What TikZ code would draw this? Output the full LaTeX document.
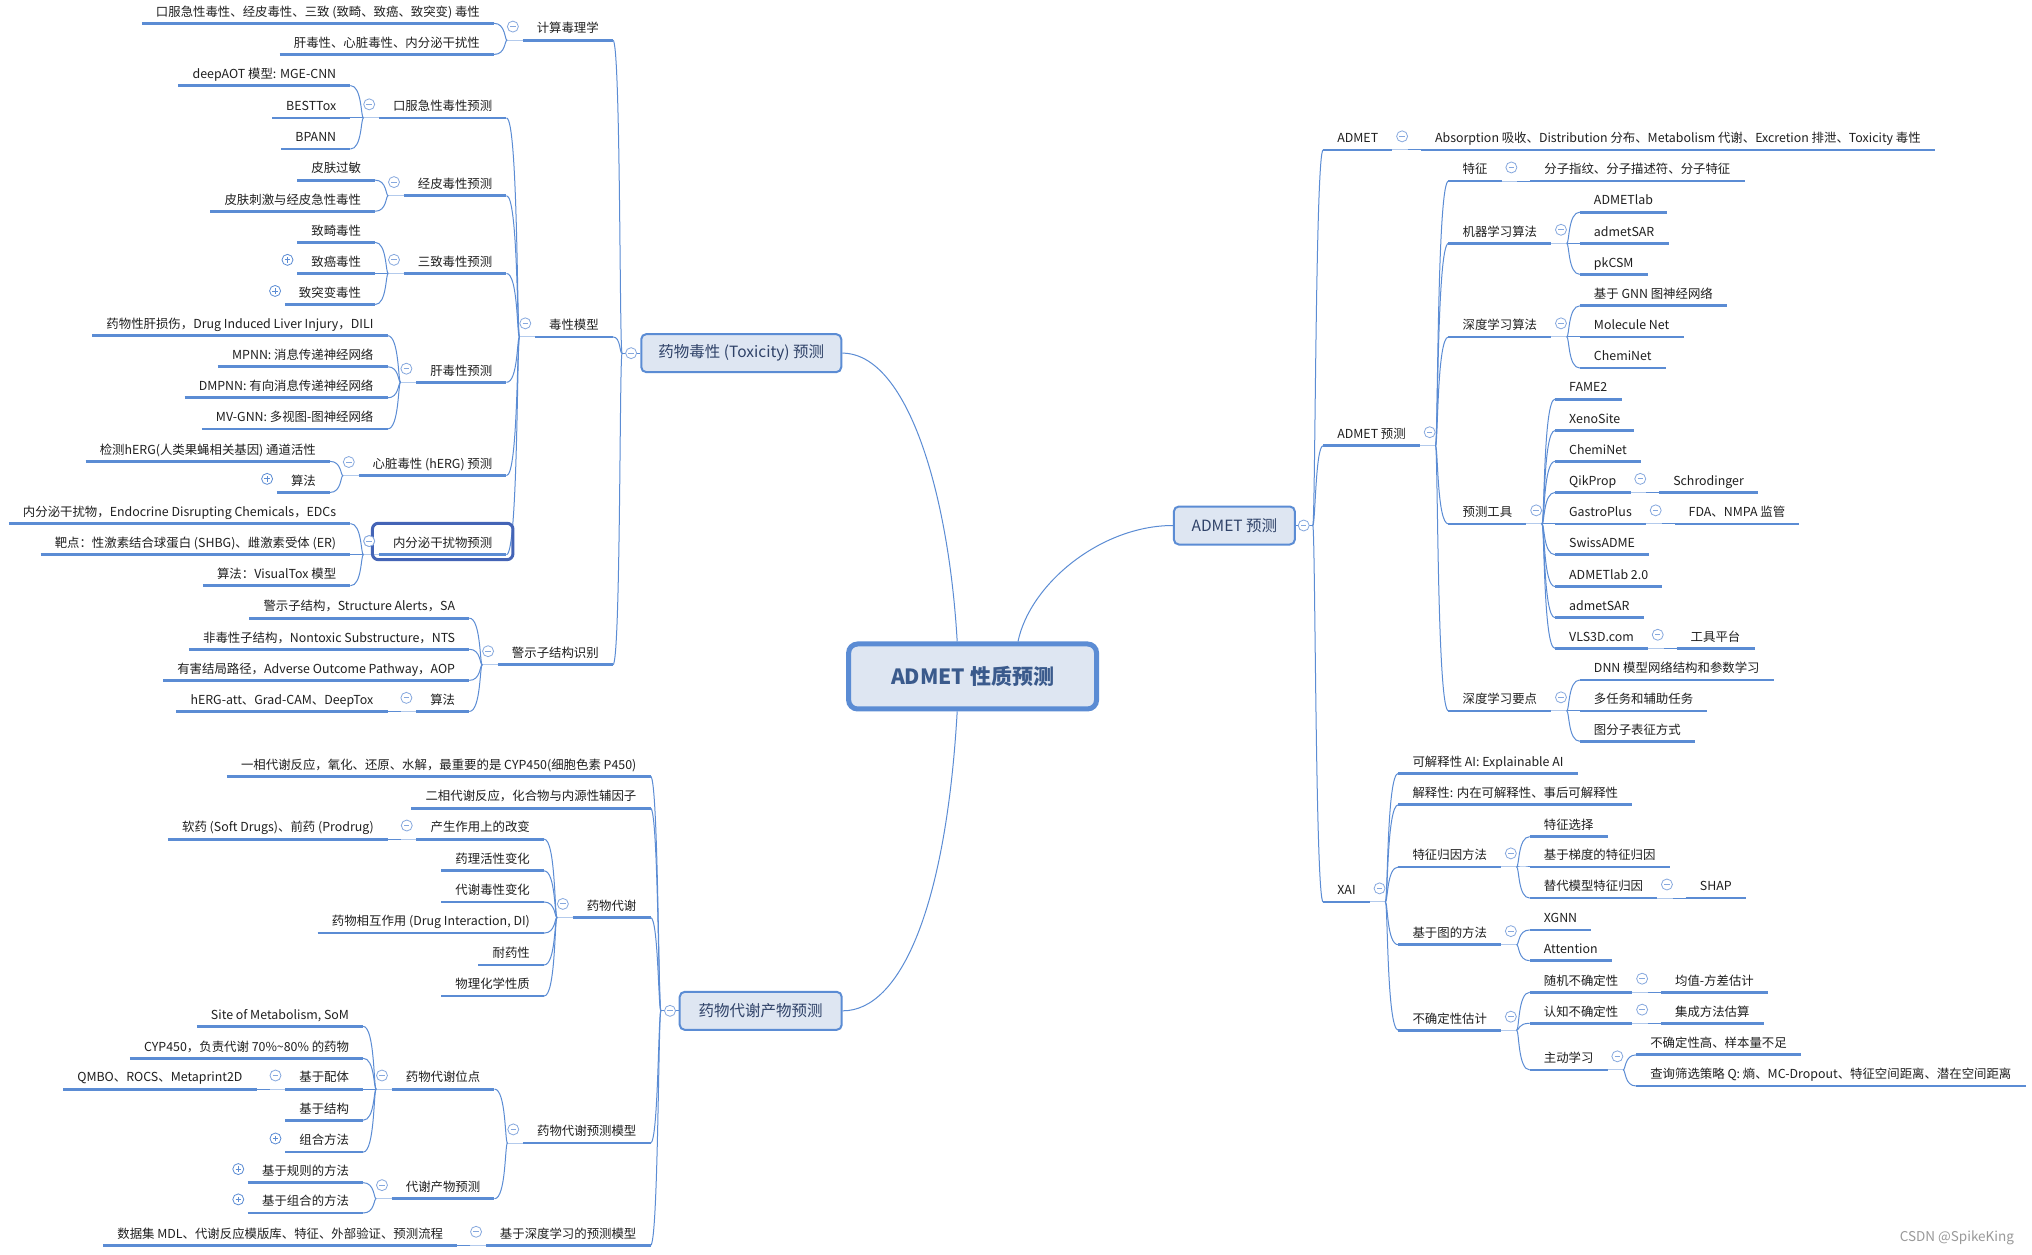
\documentclass[tikz,border=0pt]{standalone}
\usepackage{fontspec}
\setmainfont{Noto Sans CJK SC}
\definecolor{linec}{HTML}{5B8CD4}
\definecolor{gapc}{HTML}{B3CAEC}
\definecolor{foldc}{HTML}{86A8DE}
\definecolor{boxfill}{HTML}{DEE6F2}
\definecolor{boxtxt}{HTML}{2F4268}
\definecolor{roottxt}{HTML}{3A5A8C}
\definecolor{hilite}{HTML}{4464B6}
\definecolor{txt}{HTML}{1F1F1F}
\newcommand{\mmfont}{\fontsize{12.4pt}{14pt}\selectfont}
%collapse mark
\newcommand{\foldat}[1]{\draw[fold] #1 circle (5.5pt); \draw[foldc,line width=0.9pt] #1 ++(-2.7pt,0) -- ++(5.4pt,0);}
%expand mark
\newcommand{\unfoldL}[1]{\draw[fold,draw=linec] ([xshift=-9.7pt,yshift=13.6pt]#1.south west) circle (5.5pt);
  \draw[linec,line width=0.9pt] ([xshift=-12.4pt,yshift=13.6pt]#1.south west) -- ++(5.4pt,0) ([xshift=-9.7pt,yshift=10.9pt]#1.south west) -- ++(0,5.4pt);}
%branches
\newcommand{\branchL}[2]{%
  \draw[gapl] (#1.south west) -- ++(-15.5pt,0) coordinate (j#1);
  \foreach \ch in {#2}{\draw[conn] (j#1) .. controls +(-2,0) and +(9,0) .. (\ch.south east);}
  \foldat{([xshift=-9.7pt,yshift=13.6pt]#1.south west)}}
\newcommand{\branchR}[2]{%
  \draw[gapl] (#1.south east) -- ++(15.5pt,0) coordinate (j#1);
  \foreach \ch in {#2}{\draw[conn] (j#1) .. controls +(2,0) and +(-9,0) .. (\ch.south west);}
  \foldat{([xshift=9.7pt,yshift=13.6pt]#1.south east)}}
\begin{document}
\begin{tikzpicture}[x=1.296pt,y=-1.296pt,
  lnode/.style={font=\mmfont,text=txt,anchor=south east,inner xsep=14pt,inner ysep=4.5pt,text height=9.5pt,text depth=2.5pt,
    append after command={(\tikzlastnode.south west) edge[draw=linec,line width=2.8pt] (\tikzlastnode.south east)}},
  rnode/.style={lnode,anchor=south west},
  conn/.style={linec,line width=1pt},
  gapl/.style={gapc,line width=1pt},
  fold/.style={foldc,fill=white,line width=0.8pt},
  topbox/.style={draw=linec,fill=boxfill,text=boxtxt,line width=2pt,rounded corners=5pt,inner sep=0pt,minimum height=38pt,font=\fontsize{15.5pt}{18pt}\selectfont},
  rootbox/.style={topbox,text=roottxt,line width=5pt,rounded corners=9pt,minimum width=248pt,minimum height=65pt,font=\fontsize{21pt}{24pt}\selectfont\bfseries},
  hibox/.style={hilite,line width=3pt,rounded corners=6pt},
  wmark/.style={font=\fontsize{13.5pt}{15pt}\selectfont,text=black!40}]
\fill[white] (0,0) rectangle (1568,968);
\useasboundingbox (0,0) rectangle (1568,968);
%root and main topics
\node[rootbox] (root) at (750.5,522) {ADMET 性质预测};
\node[topbox,minimum width=200pt] (tox) at (572,272.5) {药物毒性 (Toxicity) 预测};
\node[topbox,minimum width=162pt] (met) at (587,780) {药物代谢产物预测};
\node[topbox,minimum width=121pt] (adm) at (952.5,405.5) {ADMET 预测};
\draw[conn] ([xshift=-15.4pt]root.north) .. controls (732,380) and (700,272.5) .. (tox.east);
\draw[conn] ([xshift=45.4pt]root.north) .. controls (795,450) and (850,405.5) .. (adm.west);
\draw[conn] ([xshift=-15.4pt]root.south) .. controls (730,700) and (695,780) .. (met.east);

%toxicity
\node[lnode] (t1) at (473,31) {计算毒理学};
\node[lnode] (t2) at (473,260) {毒性模型};
\node[lnode] (t3) at (473,513) {警示子结构识别};
\node[lnode,xshift=-28.5pt] (t11) at (t1.south west|-0,18) {口服急性毒性、经皮毒性、三致 (致畸、致癌、致突变) 毒性};
\node[lnode,xshift=-28.5pt] (t12) at (t1.south west|-0,42) {肝毒性、心脏毒性、内分泌干扰性};
\node[lnode,xshift=-28.5pt] (t21) at (t2.south west|-0,91) {口服急性毒性预测};
\node[lnode,xshift=-28.5pt] (t22) at (t2.south west|-0,151) {经皮毒性预测};
\node[lnode,xshift=-28.5pt] (t23) at (t2.south west|-0,211) {三致毒性预测};
\node[lnode,xshift=-28.5pt] (t24) at (t2.south west|-0,295) {肝毒性预测};
\node[lnode,xshift=-28.5pt] (t25) at (t2.south west|-0,367) {心脏毒性 (hERG) 预测};
\node[lnode,xshift=-28.5pt] (t26) at (t2.south west|-0,428) {内分泌干扰物预测};
\node[lnode,xshift=-28.5pt] (t211) at (t21.south west|-0,66) {deepAOT 模型: MGE-CNN};
\node[lnode,xshift=-28.5pt] (t212) at (t21.south west|-0,91) {BESTTox};
\node[lnode,xshift=-28.5pt] (t213) at (t21.south west|-0,115) {BPANN};
\node[lnode,xshift=-28.5pt] (t221) at (t22.south west|-0,139) {皮肤过敏};
\node[lnode,xshift=-28.5pt] (t222) at (t22.south west|-0,163) {皮肤刺激与经皮急性毒性};
\node[lnode,xshift=-28.5pt] (t231) at (t23.south west|-0,187) {致畸毒性};
\node[lnode,xshift=-28.5pt] (t232) at (t23.south west|-0,211) {致癌毒性};
\node[lnode,xshift=-28.5pt] (t233) at (t23.south west|-0,235) {致突变毒性};
\node[lnode,xshift=-28.5pt] (t241) at (t24.south west|-0,259) {药物性肝损伤，Drug Induced Liver Injury，DILI};
\node[lnode,xshift=-28.5pt] (t242) at (t24.south west|-0,283) {MPNN: 消息传递神经网络};
\node[lnode,xshift=-28.5pt] (t243) at (t24.south west|-0,307) {DMPNN: 有向消息传递神经网络};
\node[lnode,xshift=-28.5pt] (t244) at (t24.south west|-0,331) {MV-GNN: 多视图-图神经网络};
\node[lnode,xshift=-28.5pt] (t251) at (t25.south west|-0,356) {检测hERG(人类果蝇相关基因) 通道活性};
\node[lnode,xshift=-28.5pt] (t252) at (t25.south west|-0,380) {算法};
\node[lnode,xshift=-28.5pt] (t261) at (t26.south west|-0,404) {内分泌干扰物，Endocrine Disrupting Chemicals，EDCs};
\node[lnode,xshift=-28.5pt] (t262) at (t26.south west|-0,428) {靶点：性激素结合球蛋白 (SHBG)、雌激素受体 (ER)};
\node[lnode,xshift=-28.5pt] (t263) at (t26.south west|-0,452) {算法：VisualTox 模型};
\node[lnode,xshift=-28.5pt] (t31) at (t3.south west|-0,477) {警示子结构，Structure Alerts，SA};
\node[lnode,xshift=-28.5pt] (t32) at (t3.south west|-0,501) {非毒性子结构，Nontoxic Substructure，NTS};
\node[lnode,xshift=-28.5pt] (t33) at (t3.south west|-0,525) {有害结局路径，Adverse Outcome Pathway，AOP};
\node[lnode,xshift=-28.5pt] (t34) at (t3.south west|-0,549) {算法};
\node[lnode,xshift=-28.5pt] (t341) at (t34.south west|-0,549) {hERG-att、Grad-CAM、DeepTox};
\draw[conn] (tox.west) -- (480,272.5) coordinate (jtox);
\foreach \ch in {t1,t2,t3}{\draw[conn] (jtox) .. controls +(-2,0) and +(6,0) .. (\ch.south east);}
\foldat{(487,272.5)}
\branchL{t1}{t11,t12}
\branchL{t2}{t21,t22,t23,t24,t25,t26}
\branchL{t21}{t211,t212,t213}
\branchL{t22}{t221,t222}
\branchL{t23}{t231,t232,t233}
\branchL{t24}{t241,t242,t243,t244}
\branchL{t25}{t251,t252}
\branchL{t26}{t261,t262,t263}
\branchL{t3}{t31,t32,t33,t34}
\branchL{t34}{t341}
\unfoldL{t232}
\unfoldL{t233}
\unfoldL{t252}
\draw[hibox] ([xshift=-6.5pt,yshift=10pt]t26.north west) rectangle ([xshift=6.5pt,yshift=-5pt]t26.south east);
\foldat{([xshift=-9.7pt,yshift=13.6pt]t26.south west)}

%metabolism
\node[lnode] (m1) at (502,599) {一相代谢反应，氧化、还原、水解，最重要的是 CYP450(细胞色素 P450)};
\node[lnode] (m2) at (502,623.6) {二相代谢反应，化合物与内源性辅因子};
\node[lnode] (m3) at (502,708) {药物代谢};
\node[lnode] (m4) at (502,882) {药物代谢预测模型};
\node[lnode] (m5) at (502,961) {基于深度学习的预测模型};
\node[lnode,xshift=-28.5pt] (m31) at (m3.south west|-0,647.5) {产生作用上的改变};
\node[lnode,xshift=-28.5pt] (m32) at (m3.south west|-0,672) {药理活性变化};
\node[lnode,xshift=-28.5pt] (m33) at (m3.south west|-0,696) {代谢毒性变化};
\node[lnode,xshift=-28.5pt] (m34) at (m3.south west|-0,720) {药物相互作用 (Drug Interaction, DI)};
\node[lnode,xshift=-28.5pt] (m35) at (m3.south west|-0,744.6) {耐药性};
\node[lnode,xshift=-28.5pt] (m36) at (m3.south west|-0,768.6) {物理化学性质};
\node[lnode,xshift=-28.5pt] (m311) at (m31.south west|-0,647.5) {软药 (Soft Drugs)、前药 (Prodrug)};
\node[lnode,xshift=-28.5pt] (m41) at (m4.south west|-0,840.4) {药物代谢位点};
\node[lnode,xshift=-28.5pt] (m42) at (m4.south west|-0,925) {代谢产物预测};
\node[lnode,xshift=-28.5pt] (m411) at (m41.south west|-0,792) {Site of Metabolism, SoM};
\node[lnode,xshift=-28.5pt] (m412) at (m41.south west|-0,816.6) {CYP450，负责代谢 70\%\textasciitilde80\% 的药物};
\node[lnode,xshift=-28.5pt] (m413) at (m41.south west|-0,840.4) {基于配体};
\node[lnode,xshift=-28.5pt] (m414) at (m41.south west|-0,864.4) {基于结构};
\node[lnode,xshift=-28.5pt] (m415) at (m41.south west|-0,889) {组合方法};
\node[lnode,xshift=-28.5pt] (m4131) at (m413.south west|-0,840.4) {QMBO、ROCS、Metaprint2D};
\node[lnode,xshift=-28.5pt] (m421) at (m42.south west|-0,912.6) {基于规则的方法};
\node[lnode,xshift=-28.5pt] (m422) at (m42.south west|-0,936) {基于组合的方法};
\node[lnode,xshift=-28.5pt] (m51) at (m5.south west|-0,961) {数据集 MDL、代谢反应模版库、特征、外部验证、预测流程};
\draw[conn] (met.west) -- (510,780) coordinate (jmet);
\foreach \ch in {m1,m2,m3,m4,m5}{\draw[conn] (jmet) .. controls +(-2,0) and +(6,0) .. (\ch.south east);}
\foldat{(517,780)}
\branchL{m3}{m31,m32,m33,m34,m35,m36}
\branchL{m31}{m311}
\branchL{m4}{m41,m42}
\branchL{m41}{m411,m412,m413,m414,m415}
\branchL{m413}{m4131}
\branchL{m42}{m421,m422}
\branchL{m5}{m51}
\unfoldL{m415}
\unfoldL{m421}
\unfoldL{m422}

%admet prediction
\node[rnode] (a1) at (1021,115.7) {ADMET};
\node[rnode] (a2) at (1021,344) {ADMET 预测};
\node[rnode] (a3) at (1021,696) {XAI};
\node[rnode,xshift=28.5pt] (a11) at (a1.south east|-0,115.7) {Absorption 吸收、Distribution 分布、Metabolism 代谢、Excretion 排泄、Toxicity 毒性};
\node[rnode,xshift=28.5pt] (a21) at (a2.south east|-0,139.7) {特征};
\node[rnode,xshift=28.5pt] (a22) at (a2.south east|-0,187.8) {机器学习算法};
\node[rnode,xshift=28.5pt] (a23) at (a2.south east|-0,260) {深度学习算法};
\node[rnode,xshift=28.5pt] (a24) at (a2.south east|-0,404.3) {预测工具};
\node[rnode,xshift=28.5pt] (a25) at (a2.south east|-0,548.6) {深度学习要点};
\node[rnode,xshift=28.5pt] (a211) at (a21.south east|-0,139.7) {分子指纹、分子描述符、分子特征};
\node[rnode,xshift=28.5pt] (a221) at (a22.south east|-0,163.7) {ADMETlab};
\node[rnode,xshift=28.5pt] (a222) at (a22.south east|-0,187.8) {admetSAR};
\node[rnode,xshift=28.5pt] (a223) at (a22.south east|-0,211.7) {pkCSM};
\node[rnode,xshift=28.5pt] (a231) at (a23.south east|-0,236) {基于 GNN 图神经网络};
\node[rnode,xshift=28.5pt] (a232) at (a23.south east|-0,260) {Molecule Net};
\node[rnode,xshift=28.5pt] (a233) at (a23.south east|-0,284) {ChemiNet};
\node[rnode,xshift=28.5pt] (a241) at (a24.south east|-0,308) {FAME2};
\node[rnode,xshift=28.5pt] (a242) at (a24.south east|-0,332.3) {XenoSite};
\node[rnode,xshift=28.5pt] (a243) at (a24.south east|-0,356) {ChemiNet};
\node[rnode,xshift=28.5pt] (a244) at (a24.south east|-0,380) {QikProp};
\node[rnode,xshift=28.5pt] (a245) at (a24.south east|-0,404.3) {GastroPlus};
\node[rnode,xshift=28.5pt] (a246) at (a24.south east|-0,428) {SwissADME};
\node[rnode,xshift=28.5pt] (a247) at (a24.south east|-0,452.6) {ADMETlab 2.0};
\node[rnode,xshift=28.5pt] (a248) at (a24.south east|-0,476.6) {admetSAR};
\node[rnode,xshift=28.5pt] (a249) at (a24.south east|-0,500.3) {VLS3D.com};
\node[rnode,xshift=28.5pt] (a2441) at (a244.south east|-0,380) {Schrodinger};
\node[rnode,xshift=28.5pt] (a2451) at (a245.south east|-0,404.3) {FDA、NMPA 监管};
\node[rnode,xshift=28.5pt] (a2491) at (a249.south east|-0,500.3) {工具平台};
\node[rnode,xshift=28.5pt] (a251) at (a25.south east|-0,524.7) {DNN 模型网络结构和参数学习};
\node[rnode,xshift=28.5pt] (a252) at (a25.south east|-0,548.6) {多任务和辅助任务};
\node[rnode,xshift=28.5pt] (a253) at (a25.south east|-0,572) {图分子表征方式};
\node[rnode,xshift=28.5pt] (a31) at (a3.south east|-0,596.7) {可解释性 AI: Explainable AI};
\node[rnode,xshift=28.5pt] (a32) at (a3.south east|-0,621) {解释性: 内在可解释性、事后可解释性};
\node[rnode,xshift=28.5pt] (a33) at (a3.south east|-0,669) {特征归因方法};
\node[rnode,xshift=28.5pt] (a34) at (a3.south east|-0,729) {基于图的方法};
\node[rnode,xshift=28.5pt] (a35) at (a3.south east|-0,795) {不确定性估计};
\node[rnode,xshift=28.5pt] (a331) at (a33.south east|-0,645.6) {特征选择};
\node[rnode,xshift=28.5pt] (a332) at (a33.south east|-0,669) {基于梯度的特征归因};
\node[rnode,xshift=28.5pt] (a333) at (a33.south east|-0,693) {替代模型特征归因};
\node[rnode,xshift=28.5pt] (a3331) at (a333.south east|-0,693) {SHAP};
\node[rnode,xshift=28.5pt] (a341) at (a34.south east|-0,717.6) {XGNN};
\node[rnode,xshift=28.5pt] (a342) at (a34.south east|-0,741.3) {Attention};
\node[rnode,xshift=28.5pt] (a351) at (a35.south east|-0,765.7) {随机不确定性};
\node[rnode,xshift=28.5pt] (a352) at (a35.south east|-0,789.6) {认知不确定性};
\node[rnode,xshift=28.5pt] (a353) at (a35.south east|-0,825.6) {主动学习};
\node[rnode,xshift=28.5pt] (a3511) at (a351.south east|-0,765.7) {均值-方差估计};
\node[rnode,xshift=28.5pt] (a3521) at (a352.south east|-0,789.6) {集成方法估算};
\node[rnode,xshift=28.5pt] (a3531) at (a353.south east|-0,814) {不确定性高、样本量不足};
\node[rnode,xshift=28.5pt] (a3532) at (a353.south east|-0,838) {查询筛选策略 Q: 熵、MC-Dropout、特征空间距离、潜在空间距离};
\draw[conn] (adm.east) -- (1013,405.5) coordinate (jadm);
\foreach \ch in {a1,a2,a3}{\draw[conn] (jadm) .. controls +(2,0) and +(-6,0) .. (\ch.south west);}
\foldat{(1006,405.5)}
\branchR{a1}{a11}
\branchR{a2}{a21,a22,a23,a24,a25}
\branchR{a21}{a211}
\branchR{a22}{a221,a222,a223}
\branchR{a23}{a231,a232,a233}
\branchR{a24}{a241,a242,a243,a244,a245,a246,a247,a248,a249}
\branchR{a244}{a2441}
\branchR{a245}{a2451}
\branchR{a249}{a2491}
\branchR{a25}{a251,a252,a253}
\branchR{a3}{a31,a32,a33,a34,a35}
\branchR{a33}{a331,a332,a333}
\branchR{a333}{a3331}
\branchR{a34}{a341,a342}
\branchR{a35}{a351,a352,a353}
\branchR{a351}{a3511}
\branchR{a352}{a3521}
\branchR{a353}{a3531,a3532}

%watermark
\node[wmark] (wm) at (1510,955) {CSDN @SpikeKing};
\end{tikzpicture}
\end{document}
